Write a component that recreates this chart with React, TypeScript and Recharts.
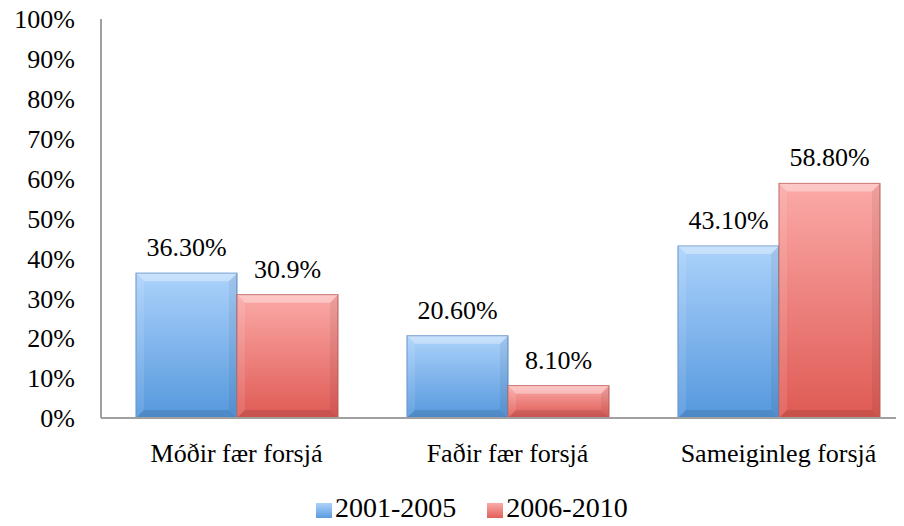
import React from "react";
import {
  BarChart,
  Bar,
  XAxis,
  YAxis,
  Legend,
  LabelList,
} from "recharts";

const categories = ["Móðir fær forsjá", "Faðir fær forsjá", "Sameiginleg forsjá"];
const values2001 = [36.3, 20.6, 43.1];
const values2006 = [30.9, 8.1, 58.8];
const labels2001 = ["36.30%", "20.60%", "43.10%"];
const labels2006 = ["30.9%", "8.10%", "58.80%"];
const yTicks = [0, 10, 20, 30, 40, 50, 60, 70, 80, 90, 100];

const data = categories.map((name, i) => ({
  name,
  a: values2001[i],
  b: values2006[i],
  la: labels2001[i],
  lb: labels2006[i],
}));

const FONT = "'Liberation Serif', serif";

// bevelled bar like the office chart
const BevelBar = (props: any) => {
  const { x, y, width, height, fill, stroke } = props;
  if (!height || height <= 0) return null;
  const b = Math.min(8, height / 3, width / 3);
  return (
    <g>
      <rect x={x} y={y} width={width} height={height} fill={fill} stroke={stroke} strokeWidth={1} />
      <polygon
        points={`${x},${y} ${x + width},${y} ${x + width - b},${y + b} ${x + b},${y + b}`}
        fill="#ffffff"
        fillOpacity={0.35}
      />
      <polygon
        points={`${x},${y} ${x + b},${y + b} ${x + b},${y + height - b} ${x},${y + height}`}
        fill="#ffffff"
        fillOpacity={0.1}
      />
      <polygon
        points={`${x + width},${y} ${x + width - b},${y + b} ${x + width - b},${y + height - b} ${x + width},${y + height}`}
        fill="#000000"
        fillOpacity={0.06}
      />
      <polygon
        points={`${x},${y + height} ${x + b},${y + height - b} ${x + width - b},${y + height - b} ${x + width},${y + height}`}
        fill="#000000"
        fillOpacity={0.1}
      />
    </g>
  );
};

export default function App() {
  return (
    <div style={{ width: 904, height: 526, margin: -8, overflow: "hidden", position: "relative", background: "#fff" }}>
      <svg width={0} height={0} style={{ position: "absolute" }}>
        <defs>
          <linearGradient id="gBlue" x1="0" y1="0" x2="0" y2="1">
            <stop offset="0%" stopColor="#acd2fb" />
            <stop offset="100%" stopColor="#5598dd" />
          </linearGradient>
          <linearGradient id="gRed" x1="0" y1="0" x2="0" y2="1">
            <stop offset="0%" stopColor="#fbaaa8" />
            <stop offset="100%" stopColor="#df5a54" />
          </linearGradient>
        </defs>
      </svg>
      <BarChart
        width={920}
        height={526}
        data={data}
        margin={{ top: 19, right: 6, bottom: 52, left: 0 }}
        barCategoryGap={35}
        barGap={0}
      >
        <YAxis
          width={101}
          domain={[0, 100]}
          ticks={yTicks}
          interval={0}
          tickFormatter={(v: number) => `${v}%`}
          axisLine={{ stroke: "#a0a0a0", strokeWidth: 2 }}
          tickLine={false}
          tickSize={0}
          tickMargin={26}
          tick={{ fill: "#000", fontSize: 26, fontFamily: FONT }}
        />
        <XAxis
          dataKey="name"
          height={30}
          axisLine={{ stroke: "#a0a0a0", strokeWidth: 2 }}
          tickLine={false}
          tickSize={0}
          tickMargin={26}
          tick={{ fill: "#000", fontSize: 26, fontFamily: FONT }}
        />
        <Legend
          verticalAlign="bottom"
          align="left"
          iconType="square"
          iconSize={16}
          wrapperStyle={{
            fontFamily: FONT,
            fontSize: 28,
            lineHeight: "26px",
            height: 26,
            color: "#000",
            top: 495,
            left: 316,
            width: 500,
            textAlign: "left",
          }}
          formatter={(value: string) => (
            <span style={{ color: "#000", paddingRight: 21, marginLeft: -1 }}>{value}</span>
          )}
        />
        <Bar
          dataKey="a"
          name="2001-2005"
          fill="url(#gBlue)"
          stroke="#5a8bc8"
          shape={BevelBar}
          isAnimationActive={false}
        >
          <LabelList dataKey="la" position="top" offset={17} fill="#000" fontSize={26} fontFamily={FONT} />
        </Bar>
        <Bar
          dataKey="b"
          name="2006-2010"
          fill="url(#gRed)"
          stroke="#c0605c"
          shape={BevelBar}
          isAnimationActive={false}
        >
          <LabelList dataKey="lb" position="top" offset={17} fill="#000" fontSize={26} fontFamily={FONT} />
        </Bar>
      </BarChart>
    </div>
  );
}
